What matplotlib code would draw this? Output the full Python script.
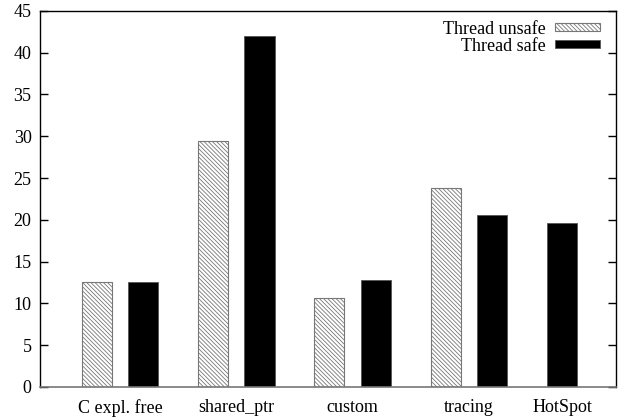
import matplotlib.pyplot as plt
import numpy as np

plt.rcParams['font.family'] = ['Liberation Serif', 'DejaVu Serif']
plt.rcParams['hatch.color'] = '#555555'
plt.rcParams['hatch.linewidth'] = 0.6

categories = ["C expl. free", "shared_ptr", "custom", "tracing", "HotSpot"]
unsafe = [12.6, 29.4, 10.6, 23.8, None]
safe = [12.6, 42.0, 12.8, 20.6, 19.6]

# cluster centres; HotSpot only has one bar so it sits off the regular grid
centers = np.array([0, 1, 2, 3, 3.8])
offset = 0.2
width = 0.26

fig, ax = plt.subplots(figsize=(6.23, 4.17), dpi=100)
fig.subplots_adjust(left=0.064, right=0.989, top=0.974, bottom=0.072)

for i, c in enumerate(centers):
    if unsafe[i] is not None:
        ax.bar(c - offset, unsafe[i], width, color='white', edgecolor='#777777',
               hatch='\\\\\\\\\\\\\\\\', linewidth=0.8, zorder=2,
               label='Thread unsafe' if i == 0 else None)
    x_safe = c + offset if unsafe[i] is not None else c
    ax.bar(x_safe, safe[i], width, color='black', edgecolor='#555555',
           linewidth=0.6, zorder=2, label='Thread safe' if i == 0 else None)

ax.set_xlim(-0.688, 4.265)
ax.set_ylim(0, 45)
ax.set_yticks(np.arange(0, 46, 5))
ax.set_xticks(centers)
ax.set_xticklabels(categories)
ax.tick_params(axis='x', length=0, pad=9, labelsize=13)
ax.tick_params(axis='y', direction='in', length=6, right=True, labelsize=13,
               pad=6, width=1)

for s in ['left', 'top', 'right']:
    ax.spines[s].set_color('black')
    ax.spines[s].set_linewidth(1)
ax.spines['bottom'].set_color('#777777')
ax.spines['bottom'].set_linewidth(1.2)
ax.spines['bottom'].set_zorder(3)

leg = ax.legend(loc='upper right', frameon=False, markerfirst=False,
                fontsize=13, handlelength=2.5, handleheight=0.3,
                labelspacing=0.0, handletextpad=0.5,
                bbox_to_anchor=(0.991, 1.003), borderaxespad=0.2)
for t in leg.get_texts():
    t.set_ha('right')

fig.savefig('out.png', dpi=100)
